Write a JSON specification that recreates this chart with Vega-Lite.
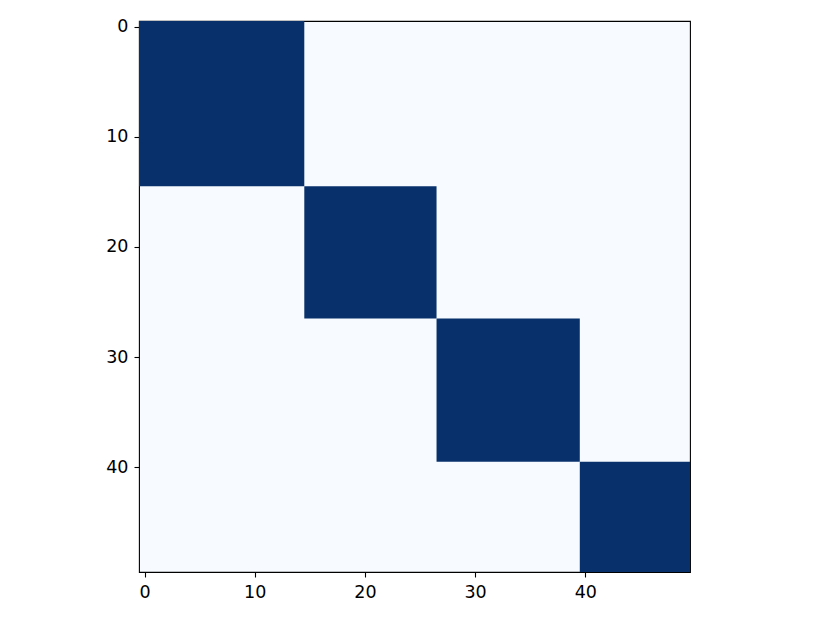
{
  "$schema": "https://vega.github.io/schema/vega-lite/v6.json",
  "width": 551,
  "height": 551,
  "autosize": {"type": "none"},
  "padding": {"left": 139, "top": 21, "right": 140, "bottom": 51},
  "background": "white",
  "config": {
    "view": {"fill": "#f7fbff", "stroke": "black", "strokeWidth": 1.1},
    "axis": {
      "labelFont": "DejaVu Sans",
      "labelFontSize": 17.5,
      "labelColor": "black",
      "tickColor": "black",
      "tickSize": 5,
      "tickWidth": 1.1,
      "domain": false,
      "grid": false,
      "title": null
    },
    "axisLeft": {"labelPadding": 6},
    "axisBottom": {"labelPadding": 6}
  },
  "data": {
    "values": [
      {"lo": -0.5, "hi": 14.5, "value": 1},
      {"lo": 14.5, "hi": 26.5, "value": 1},
      {"lo": 26.5, "hi": 39.5, "value": 1},
      {"lo": 39.5, "hi": 49.5, "value": 1}
    ]
  },
  "mark": {"type": "rect", "color": "#08306b", "stroke": null},
  "encoding": {
    "x": {
      "field": "lo", "type": "quantitative",
      "scale": {"domain": [-0.5, 49.5], "nice": false, "zero": false},
      "axis": {"values": [0, 10, 20, 30, 40], "orient": "bottom"}
    },
    "x2": {"field": "hi"},
    "y": {
      "field": "lo", "type": "quantitative",
      "scale": {"domain": [-0.5, 49.5], "nice": false, "zero": false, "reverse": true},
      "axis": {"values": [0, 10, 20, 30, 40], "orient": "left"}
    },
    "y2": {"field": "hi"}
  }
}
